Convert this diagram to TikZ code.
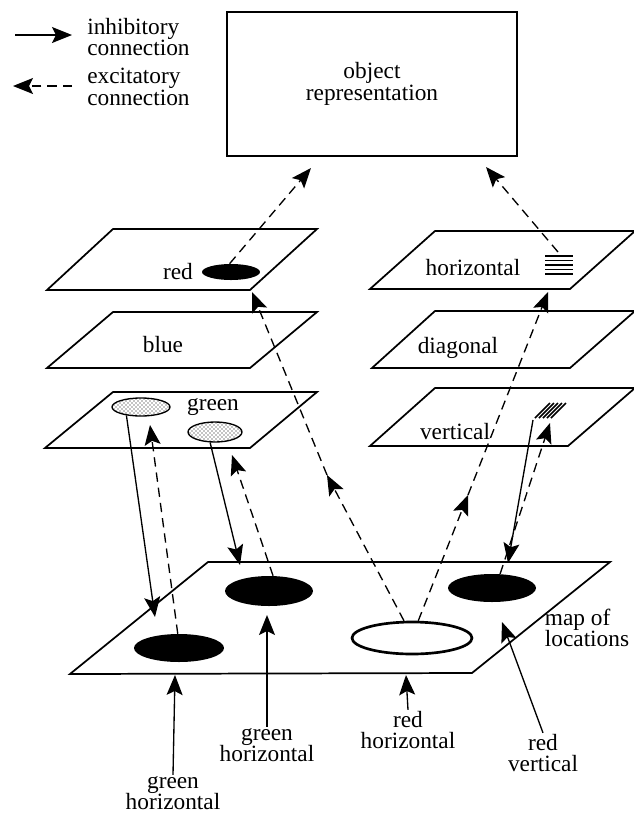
\documentclass[tikz,border=0pt]{standalone}
\usepackage{fontspec}
\setmainfont{Liberation Serif}
\usetikzlibrary{arrows.meta,shapes.geometric,patterns}

\begin{document}
\begin{tikzpicture}[x=0.75pt,y=0.75pt,yscale=-1,xscale=1,
  lbl/.style={font=\fontsize{17.5}{16}\selectfont,inner sep=0.75pt,align=center},
  plane/.style={line width=1.3pt,line join=miter},
  spot/.style={ellipse,inner sep=0pt,fill=black},
  speck/.style={ellipse,inner sep=0pt,draw,line width=1pt,pattern=crosshatch dots},
  inhib/.style={line width=1pt,-{Stealth[length=15pt,width=12pt,inset=3pt]}},
  excit/.style={line width=1pt,dash pattern=on 7pt off 4.5pt,-{Stealth[length=15pt,width=12pt,inset=3pt]}}]
\useasboundingbox (0,0) rectangle (634,815);

% Legend
\node[lbl,anchor=west,align=left] (leginh) at (86,37) {inhibitory\\connection};
\node[lbl,anchor=west,align=left] (legexc) at (86,87) {excitatory\\connection};
\coordinate (lia) at (15,35); \coordinate (lib) at (72,35);
\coordinate (lea) at (72,86); \coordinate (leb) at (13,86);
\draw[inhib] (lia) -- (lib);
\draw[excit] (lea) -- (leb);

% Object representation
\node[draw,line width=1.1pt,minimum width=217.5pt,minimum height=108pt,lbl] (obj) at (372,84) {object\\representation};

%Shape: feature planes, left column
\draw[plane] (47,290) -- (250,290) -- (317,229) -- (113,229) -- cycle;
\draw[plane] (47,368) -- (250,368) -- (317,312) -- (113,312) -- cycle;
\draw[plane] (45,448) -- (250,448) -- (317,392) -- (113,392) -- cycle;
%Shape: feature planes, right column
\draw[plane] (370,289) -- (570,289) -- (635,231) -- (435,231) -- cycle;
\draw[plane] (372,368) -- (570,368) -- (635,311) -- (435,311) -- cycle;
\draw[plane] (370,446) -- (568,446) -- (635,388) -- (435,388) -- cycle;
%Shape: map of locations
\draw[plane] (70,674) -- (472,673) -- (610,562) -- (208,562) -- cycle;

% Text Node
\node[lbl] (tred) at (178,272) {red};
\node[lbl] (tblue) at (163,345) {blue};
\node[lbl] (tgreen) at (213,407) {green};
\node[lbl] (thor) at (473,268) {horizontal};
\node[lbl] (tdiag) at (458,348) {diagonal};
\node[lbl] (tvert) at (455,432) {vertical};
\node[lbl,align=left] (tmap) at (587,628) {map of\\locations};

% spots on the feature planes
\node[spot,minimum width=43.5pt,minimum height=12pt] (redspot) at (231,272) {};
\node[speck,minimum width=43.5pt,minimum height=13.5pt] (gspota) at (141,407) {};
\node[speck,minimum width=40.5pt,minimum height=15pt] (gspotb) at (215,432) {};
\foreach \i in {0,...,4}
  \draw[line width=1.2pt] (545,256+4.5*\i) -- (573,256+4.5*\i);
\foreach \i in {0,...,4}
  \draw[line width=1.2pt] (535+4*\i,418) -- (550+4*\i,403);
\coordinate (hicon) at (558,252);
\coordinate (vicon) at (533,420);

% spots on the map of locations
\node[spot,minimum width=67.5pt,minimum height=21pt] (mapga) at (179,648) {};
\node[spot,minimum width=66pt,minimum height=22.5pt] (mapgb) at (269,591) {};
\node[ellipse,draw,line width=2pt,inner sep=0pt,minimum width=90pt,minimum height=24pt] (mapr) at (412,638) {};
\node[spot,minimum width=66pt,minimum height=21pt] (maprv) at (492,588) {};

% green: inhibitory down, excitatory up
\coordinate (ga) at (155,617);
\coordinate (gb) at (150,425);
\coordinate (gc) at (240,565);
\coordinate (gd) at (232,455);
\draw[inhib] (gspota.-150) -- (ga);
\draw[excit] (mapga.95) -- (gb);
\draw[inhib] (gspotb.-115) -- (gc);
\draw[excit] (mapgb.75) -- (gd);

% vertical: inhibitory down, excitatory up
\coordinate (va) at (508,563);
\coordinate (vb) at (550,423);
\draw[inhib] (vicon) -- (va);
\draw[excit] (maprv.60) -- (vb);

% red horizontal location up to the feature maps
\coordinate (ra) at (327,475);
\coordinate (rb) at (252,292);
\coordinate (rc) at (468,495);
\coordinate (rd) at (548,292);
\draw[excit] (mapr.115) -- (ra);
\draw[excit] (ra) -- (rb);
\draw[excit] (mapr.70) -- (rc);
\draw[excit] (rc) -- (rd);

% feature maps to object representation
\coordinate (oa) at (311,168);
\coordinate (ob) at (486,167);
\draw[excit] (redspot.100) -- (oa);
\draw[excit] (hicon) -- (ob);

% inputs
\node[lbl] (ina) at (173,793) {green\\horizontal};
\node[lbl] (inb) at (267,745) {green\\horizontal};
\node[lbl] (inc) at (408,730) {red\\horizontal};
\node[lbl] (ind) at (543,753) {red\\vertical};
\coordinate (ia) at (175,675);
\coordinate (ib) at (267,615);
\coordinate (ic) at (406,675);
\coordinate (id) at (502,622);
\draw[inhib] (ina.north) -- (ia);
\draw[inhib] (inb.north) -- (ib);
\draw[inhib] (inc.north) -- (ic);
\draw[inhib] (ind.north) -- (id);

\end{tikzpicture}
\end{document}
